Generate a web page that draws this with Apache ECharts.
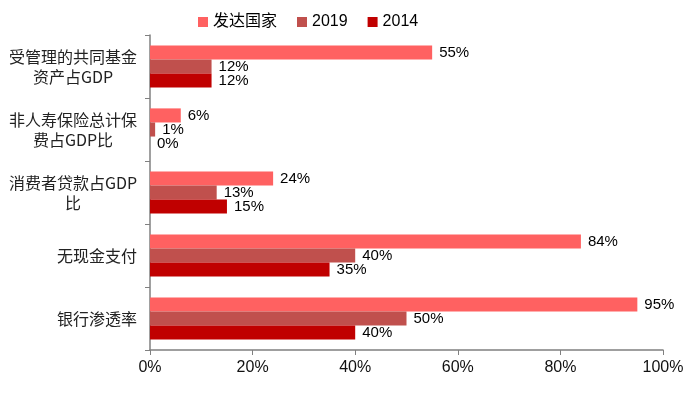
<!DOCTYPE html>
<html>
<head>
<meta charset="utf-8">
<script src="https://cdn.jsdelivr.net/npm/echarts@6/dist/echarts.min.js"></script>
<style>html,body{margin:0;padding:0;background:#fff}#c{width:700px;height:406px}</style>
</head>
<body>
<div id="c"></div>
<script>
var categories = ['受管理的共同基金\n资产占GDP', '非人寿保险总计保\n费占GDP比', '消费者贷款占GDP\n比', '无现金支付', '银行渗透率'];
var seriesNames = ['发达国家', '2019', '2014'];
var developed = [55, 6, 24, 84, 95];
var v2019 = [12, 1, 13, 40, 50];
var v2014 = [12, 0, 15, 35, 40];
var xTicks = [0, 20, 40, 60, 80, 100];
var colors = ['#FF6161', '#C0504D', '#C00000'];

var chart = echarts.init(document.getElementById('c'));
function mkSeries(name, data, color) {
  return {
    name: name, type: 'bar', data: data, barGap: 0, barCategoryGap: '33%',
    itemStyle: { color: color },
    label: { show: true, position: 'right', distance: 7, formatter: '{c}%', color: '#000', fontFamily: 'Liberation Sans, Arial', fontSize: 15 }
  };
}
chart.setOption({
  animation: false,
  legend: {
    top: 9, left: 193, itemWidth: 10, itemHeight: 10, itemGap: 20,
    icon: 'rect',
    textStyle: { fontSize: 16, color: '#000', fontFamily: 'Liberation Sans, Noto Sans CJK SC' },
    data: seriesNames
  },
  grid: { left: 150, right: 37, top: 35, bottom: 56, containLabel: false },
  xAxis: {
    type: 'value', min: xTicks[0], max: xTicks[xTicks.length - 1], interval: 20,
    axisLine: { show: true, lineStyle: { color: '#808080', width: 1.5 } },
    axisTick: { show: true, length: 5, lineStyle: { color: '#808080' } },
    splitLine: { show: false },
    axisLabel: { formatter: '{value}%', color: '#111', fontSize: 16, fontFamily: 'Liberation Sans, Arial', margin: 10 }
  },
  yAxis: {
    type: 'category', data: categories, inverse: true,
    axisLine: { show: true, lineStyle: { color: '#808080', width: 1.5 } },
    axisTick: { show: true, length: 5, lineStyle: { color: '#808080' } },
    axisLabel: {
      margin: 13, color: '#222', fontSize: 16, lineHeight: 20, fontFamily: 'Noto Sans CJK SC',
      formatter: function (v) {
        if (v.indexOf('\n') >= 0) {
          return v.split('\n').map(function (s) { return '{m|' + s + '}'; }).join('\n');
        }
        return v;
      },
      rich: { m: { width: 128, align: 'center', fontSize: 16, lineHeight: 20, color: '#222', fontFamily: 'Noto Sans CJK SC' } }
    }
  },
  series: [
    mkSeries(seriesNames[0], developed, colors[0]),
    mkSeries(seriesNames[1], v2019, colors[1]),
    mkSeries(seriesNames[2], v2014, colors[2])
  ]
});
</script>
</body>
</html>
